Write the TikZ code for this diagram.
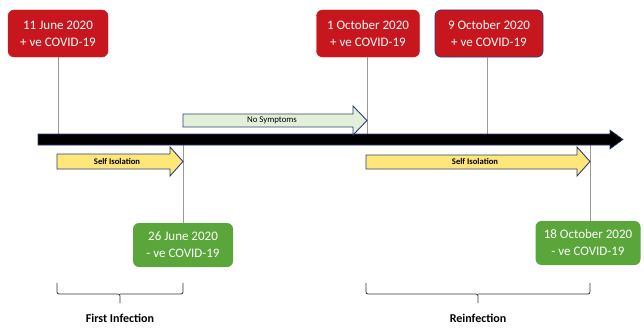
\documentclass[tikz,border=0pt]{standalone}
\usepackage{fontspec}
\setmainfont{Carlito}
\begin{document}
\begin{tikzpicture}[x=1pt,y=-1pt,
  posbox/.style={draw=#1, fill=boxred, rounded corners=6pt, text=white, align=center,
     font=\fontsize{13}{17}\selectfont, inner sep=0pt},
  negbox/.style={fill=boxgreen, rounded corners=6pt, text=white, align=center,
     font=\fontsize{13}{17}\selectfont, inner sep=0pt},
  tick/.style={draw=gray!80, line width=0.8pt},
  arr/.style={draw=navy, line width=0.9pt, line join=miter},
  lbl/.style={font=\bfseries\fontsize{8.6}{10}\selectfont},
  brace/.style={draw=black!80, line width=0.8pt, rounded corners=2pt},
  bracelbl/.style={font=\bfseries\fontsize{12}{14}\selectfont}
]
\definecolor{boxred}{RGB}{200,22,30}
\definecolor{boxgreen}{RGB}{90,166,58}
\definecolor{navy}{RGB}{47,60,125}
\definecolor{lgreen}{RGB}{226,240,217}
\definecolor{lyellow}{RGB}{255,230,120}
\useasboundingbox (0,0) rectangle (644,329);

% boxes
\node[posbox=boxred, minimum width=100pt, minimum height=47pt] (b1) at (58,33.5) {11 June 2020\\+ ve COVID-19};
\node[posbox=boxred, minimum width=103pt, minimum height=47pt] (b2) at (368,33.5) {1 October 2020\\+ ve COVID-19};
\node[posbox=navy, line width=0.8pt, minimum width=108pt, minimum height=47pt] (b3) at (489,33.5) {9 October 2020\\+ ve COVID-19};
\node[negbox, minimum width=100pt, minimum height=44pt] (g1) at (183,245) {26 June 2020\\- ve COVID-19};
\node[negbox, minimum width=105pt, minimum height=44pt] (g2) at (588,243) {18 October 2020\\- ve COVID-19};

% timeline anchors
\coordinate (t1) at (58,134);
\coordinate (t2) at (367,134);
\coordinate (t3) at (487,134);
\coordinate (t4) at (183,145);
\coordinate (t5) at (590,145);

% ticks
\draw[tick] (b1.south -| t1) -- (t1);
\draw[tick] (b2.south -| t2) -- (t2);
\draw[tick] (b3.south -| t3) -- (t3);
\draw[tick] (t4) -- (g1.north -| t4);
\draw[tick] (t5) -- (g2.north -| t5);

% main timeline
\draw[draw=navy, line width=0.6pt, fill=black] (38,134) -- (610,134) -- (610,130) -- (623,139.5) -- (610,149) -- (610,145) -- (38,145) -- cycle;

% No symptoms arrow
\draw[arr, fill=lgreen] (183,114) -- (353,114) -- (353,106) -- (367,120.5) -- (353,135) -- (353,127) -- (183,127) -- cycle;
\node[font=\fontsize{8.8}{10}\selectfont] (ns) at (272,120.5) {No Symptoms};

% Self isolation arrows
\draw[arr, fill=lyellow] (57,154) -- (170,154) -- (170,147) -- (183,161.5) -- (170,176) -- (170,169) -- (57,169) -- cycle;
\node[lbl] (si1) at (117,161.5) {Self Isolation};
\draw[arr, fill=lyellow] (366,155) -- (577,155) -- (577,147) -- (590,161.5) -- (577,176) -- (577,169) -- (366,169) -- cycle;
\node[lbl] (si2) at (475,161.5) {Self Isolation};

% braces
\draw[brace] (57,283) -- (57,294) -- (120,294) -- (120,303);
\draw[brace] (120,294) -- (183,294) -- (183,283);
\node[bracelbl] (fi) at (120,318) {First Infection};
\draw[brace] (366,283) -- (366,294) -- (478,294) -- (478,303);
\draw[brace] (478,294) -- (590,294) -- (590,283);
\node[bracelbl] (ri) at (478,318) {Reinfection};
\end{tikzpicture}
\end{document}
